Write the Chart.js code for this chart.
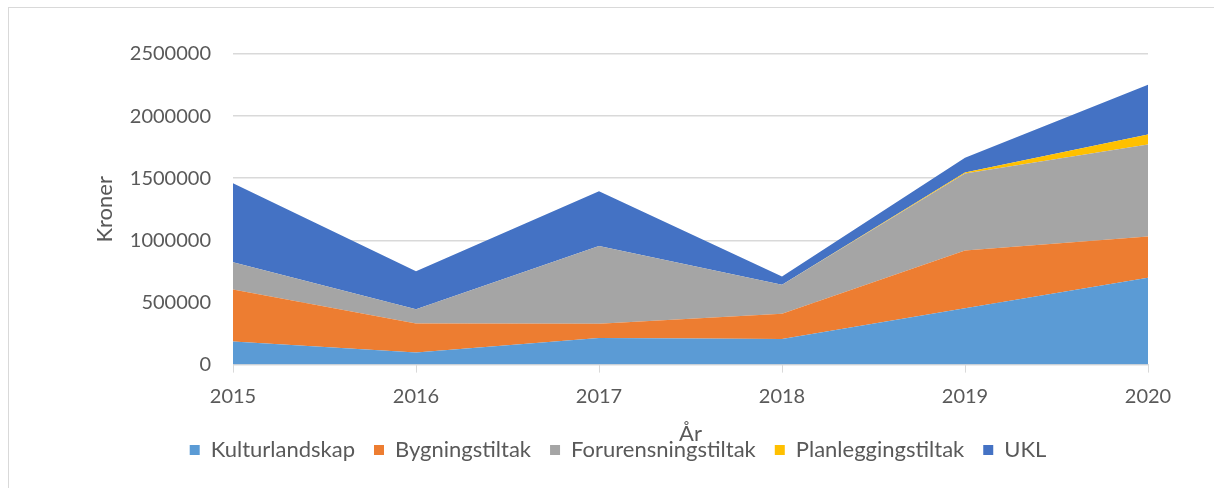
<!DOCTYPE html>
<html>
<head>
<meta charset="utf-8">
<script src="https://cdn.jsdelivr.net/npm/chart.js@4/dist/chart.umd.min.js"></script>
<style>
  html, body { margin: 0; padding: 0; background: #fff; overflow: hidden; }
  #frame { position: absolute; left: 8px; top: 7px; width: 1400px; height: 700px; border: 1px solid #d9d9d9; }
  #wrap { position: absolute; left: 0; top: 0; width: 1214px; height: 488px; }
</style>
</head>
<body>
<div id="frame"></div>
<div id="wrap"><canvas id="areaChart"></canvas></div>
<script>
const years = ["2015", "2016", "2017", "2018", "2019", "2020"];
const kulturlandskap = [185000, 97000, 215000, 207000, 454000, 699000];
const bygningstiltak = [420000, 234000, 113000, 202000, 465000, 333000];
const forurensningstiltak = [218000, 115000, 626000, 234000, 619000, 740000];
const planleggingstiltak = [0, 0, 0, 0, 8000, 80000];
const ukl = [637000, 306000, 441000, 67000, 118000, 400000];
const yTicks = [0, 500000, 1000000, 1500000, 2000000, 2500000];

const textColor = "#595959";
const gridColor = "#d9d9d9";
const font = { family: "Lato", size: 20 };
const bigFont = { family: "Lato", size: 22 };

function area(label, data, color, fill) {
  return {
    label: label,
    data: data,
    backgroundColor: color,
    borderColor: color,
    borderWidth: 0,
    pointRadius: 0,
    fill: fill
  };
}

new Chart(document.getElementById("areaChart"), {
  type: "line",
  data: {
    labels: years,
    datasets: [
      area("Kulturlandskap", kulturlandskap, "#5b9bd5", "origin"),
      area("Bygningstiltak", bygningstiltak, "#ed7d31", "-1"),
      area("Forurensningstiltak", forurensningstiltak, "#a5a5a5", "-1"),
      area("Planleggingstiltak", planleggingstiltak, "#ffc000", "-1"),
      area("UKL", ukl, "#4472c4", "-1")
    ]
  },
  options: {
    responsive: true,
    maintainAspectRatio: false,
    animation: false,
    layout: { padding: { left: 88, right: 66, top: 54, bottom: 17 } },
    plugins: {
      tooltip: { enabled: false },
      legend: {
        position: "bottom",
        labels: {
          boxWidth: 10,
          boxHeight: 10,
          padding: 19,
          color: textColor,
          font: bigFont
        }
      }
    },
    scales: {
      x: {
        offset: false,
        grid: { drawOnChartArea: false, drawTicks: true, tickLength: 8, color: gridColor },
        border: { display: true, color: gridColor },
        ticks: { color: textColor, font: font, padding: 12, maxRotation: 0 },
        title: { display: true, text: "År", color: textColor, font: bigFont, padding: { top: 0, bottom: -27 } }
      },
      y: {
        stacked: true,
        min: 0,
        max: 2500000,
        afterFit: (scale) => { scale.width = 145; },
        afterBuildTicks: (scale) => { scale.ticks = yTicks.map(v => ({ value: v })); },
        grid: { color: gridColor, drawTicks: false, lineWidth: 1.5 },
        border: { display: false },
        ticks: { color: textColor, font: font, padding: 22, callback: (v) => String(v) },
        title: { display: true, text: "Kroner", color: textColor, font: bigFont }
      }
    }
  }
});
</script>
</body>
</html>
